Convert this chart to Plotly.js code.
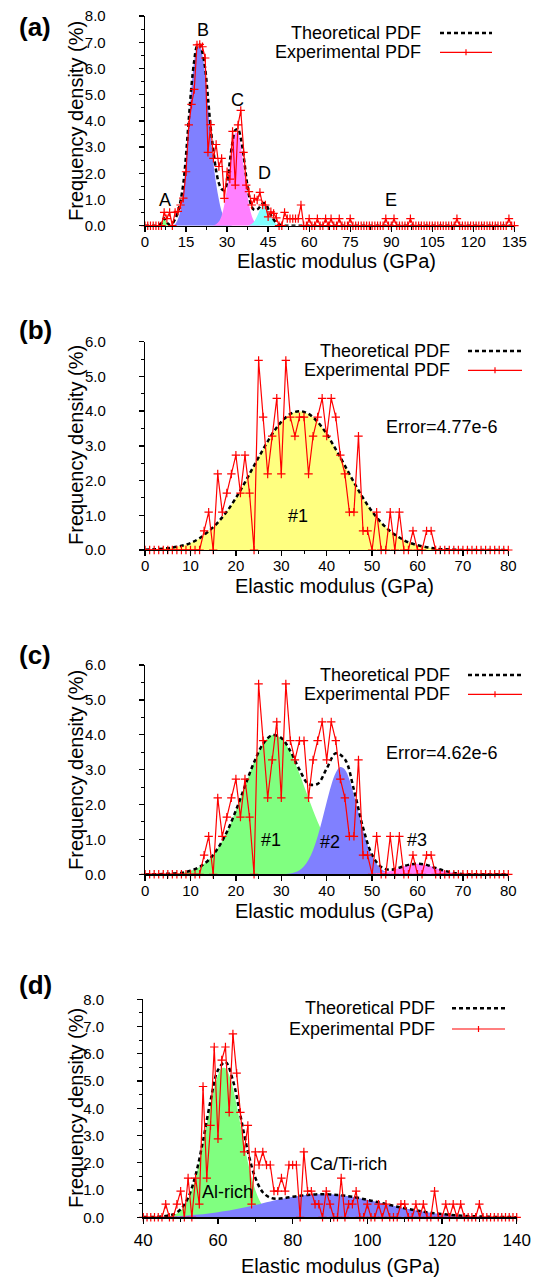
<!DOCTYPE html>
<html><head><meta charset="utf-8">
<script src="https://cdn.plot.ly/plotly-3.0.1.min.js"></script>
<style>html,body{margin:0;padding:0;background:#fff}#chart{width:538px;height:1279px}</style>
</head><body><div id="chart"></div>
<script>
// ---------- DATA ----------
// (a) experimental PDF, bins 0..135 GPa (step 1)
const expA = [
 0,0,0,0,0,0,0,0.51,0.27,0.51,
 0,0.51,0.55,0.79,1.05,2.06,3.85,4.63,5.2,6.9,
 6.92,6.83,6.4,2.8,3.86,2.57,3.1,2.26,2.57,1.04,
 2.06,1.78,3.6,1.55,3.85,4.4,2.8,1.55,1.3,0.79,
 1.04,0.98,1.27,0.79,0.79,0.34,0.53,0.47,0.3,0,
 0,0.51,0.27,0.27,0.27,0.27,0.27,0.79,0,0,
 0.27,0,0,0.27,0,0,0.27,0,0.27,0,
 0,0.27,0,0,0,0.27,0,0,0,0,
 0,0,0,0,0,0,0,0,0.27,0,
 0,0.27,0,0,0,0,0,0.27,0,0,
 0,0,0,0,0,0,0,0,0,0,
 0,0,0,0,0.27,0,0,0,0,0,
 0,0,0,0,0,0,0,0,0,0,
 0,0,0,0.27,0,0];
// (a) theoretical PDF, 0..135 GPa (step 1)
const theoA = [
 0,0,0,0,0,0.02,0.1,0.28,0.12,0.04,
 0.08,0.25,0.5,0.95,1.6,2.7,4.05,5.35,6.3,6.85,
 6.92,6.6,6.0,4.9,3.75,2.85,2.1,1.62,1.4,1.36,
 1.65,2.45,3.2,3.65,3.68,3.35,2.7,1.85,1.15,0.72,
 0.6,0.62,0.72,0.85,0.85,0.65,0.42,0.24,0.12,0.05,
 0.02,0,0,0,0,0,0,0,0,0,
 0,0,0,0,0,0,0,0,0,0,
 0,0,0,0,0,0,0,0,0,0,
 0,0,0,0,0,0,0,0,0,0,
 0,0,0,0,0,0,0,0,0,0,
 0,0,0,0,0,0,0,0,0,0,
 0,0,0,0,0,0,0,0,0,0,
 0,0,0,0,0,0,0,0,0,0,
 0,0,0,0,0,0];
// (a) components
const compA_A = [0,0.1,0.28,0.1,0];                       // from 5 GPa
const compA_B = [0,0.02,0.06,0.25,0.6,1.35,2.55,3.95,5.3,6.3,6.8,6.85,6.5,5.75,4.6,3.45,2.4,1.6,1.0,0.55,0.28,0.12,0.05,0]; // from 9 GPa
const compA_C = [0.017,0.056,0.158,0.384,0.805,1.455,2.27,3.05,3.53,3.53,3.05,2.27,1.455,0.805,0.384,0.158,0.056,0.017]; // from 25 GPa
const compA_D = [0.018,0.064,0.173,0.366,0.604,0.775,0.775,0.604,0.366,0.173,0.064,0.018,0]; // from 38 GPa

// (b),(c) experimental PDF, bins 0..80 GPa (step 1)
const expB = [
 0,0,0,0,0,0,0,0,0,0,
 0,0,0,0.55,1.09,0,2.19,1.09,1.64,2.19,
 2.73,1.64,2.73,1.64,0,5.46,3.83,2.19,3.28,4.37,
 2.19,5.46,3.83,3.28,3.83,3.83,2.19,3.28,3.83,4.37,
 3.28,4.37,3.83,2.73,2.19,1.09,1.09,3.28,0.55,0.55,
 0,1.09,0,0,1.09,0,1.09,0,0,0.55,
 0,0,0.55,0.55,0,0,0,0,0,0,
 0,0,0,0,0,0,0,0,0,0,0];
// (b) theoretical = single component #1, 0..80 GPa (step 2)
const theoB = [0.01,0.02,0.04,0.07,0.12,0.2,0.34,0.54,0.79,1.11,1.5,1.95,2.43,2.9,3.34,3.69,3.92,4.0,3.92,3.69,3.34,2.9,2.43,1.95,1.5,1.11,0.79,0.54,0.36,0.22,0.14,0.08,0.04,0.02,0.01,0,0,0,0,0,0];
// (c) components and theoretical
const compC1 = [0,0,0.01,0.02,0.04,0.1,0.21,0.41,0.74,1.21,1.83,2.53,3.21,3.74,3.99,3.9,3.5,2.88,2.18,1.51,0.96,0.56,0.3,0.15,0.07,0.03,0.01,0,0,0,0,0,0,0,0,0,0,0,0,0,0]; // 0..80 step 2
const compC2 = [0.004,0.01,0.024,0.056,0.118,0.23,0.417,0.699,1.085,1.559,2.075,2.556,2.914,3.074,3.005,2.718,2.276,1.765,1.266,0.841,0.517,0.294,0.155,0.076,0.034,0.014,0.005]; // 30..56 step 1
const compC3 = [0.003,0.013,0.041,0.097,0.182,0.265,0.3,0.265,0.182,0.097,0.041,0.013,0.003]; // 48..72 step 2
const theoC = [0,0,0.01,0.02,0.04,0.1,0.21,0.41,0.74,1.21,1.83,2.53,3.21,3.74,3.99,3.91,3.53,3.0,2.59,2.59,3.03,3.47,3.3,2.42,1.34,0.56,0.21,0.13,0.19,0.27,0.3,0.27,0.18,0.1,0.04,0.01,0,0,0,0,0];

// (d) experimental PDF, bins 40..140 GPa (step 1)
const expD = [
 0,0,0,0,0,0,0.48,0,0,0.48,
 0.96,0,1.44,0,1.44,0.48,4.8,1.44,3.37,6.25,
 2.88,5.77,6.25,3.85,6.73,5.29,3.85,2.4,3.37,0.48,
 2.4,1.92,2.4,1.92,1.92,0.96,0.96,1.44,0.96,1.92,
 1.92,1.92,0,2.4,0.96,0.96,0.48,0.48,0,0.96,
 0.48,0,0,1.44,0,0.48,0.48,0.96,0,0,
 0.48,0,0,0.48,0,0.48,0,0,0,0.48,
 0.48,0,0,0.48,0,0.48,0,0,0.96,0,
 0,0.48,0,0.48,0,0.48,0,0,0,0,
 0.48,0,0,0,0,0,0,0,0,0,
 0];
const compD_Al = [0.019,0.038,0.074,0.137,0.242,0.406,0.652,0.998,1.456,2.027,2.691,3.408,4.118,4.745,5.215,5.468,5.468,5.215,4.745,4.118,3.408,2.691,2.027,1.456,0.998,0.652,0.406,0.242,0.137,0.074,0.038,0.019]; // 46..77 step 1
const compD_Ca = [0.009,0.014,0.019,0.027,0.037,0.051,0.068,0.089,0.115,0.147,0.184,0.227,0.276,0.33,0.389,0.451,0.516,0.58,0.642,0.699,0.75,0.792,0.824,0.843,0.85,0.843,0.824,0.792,0.75,0.699,0.642,0.58,0.516,0.451,0.389,0.33,0.276,0.227,0.184,0.147,0.115,0.089,0.068,0.051,0.037,0.027,0.019,0.014,0.009,0.006,0.004]; // 40..140 step 2
const theoD = [0.01,0.01,0.02,0.05,0.11,0.29,0.72,1.55,2.81,4.27,5.4,5.7,5.02,3.74,2.42,1.45,0.92,0.72,0.68,0.71,0.75,0.79,0.82,0.84,0.85,0.84,0.82,0.79,0.75,0.7,0.64,0.58,0.52,0.45,0.39,0.33,0.28,0.23,0.18,0.15,0.12,0.09,0.07,0.05,0.04,0.03,0.02,0.01,0.01,0.01,0]; // 40..140 step 2

// ---------- STYLE ----------
const W = 538, H = 1279;
const FONT = '"Liberation Sans", Arial, Helvetica, sans-serif';
const px = v => v / W;
const py = v => 1 - v / H;
const GREEN = 'rgb(128,255,128)', BLUE = 'rgb(128,128,255)', MAG = 'rgb(255,128,255)',
      CYAN = 'rgb(128,255,255)', YEL = 'rgb(255,255,128)', RED = '#ff0000';

function fillTrace(y, x0, dx, color, xa, ya) {
  return {type:'scatter', mode:'lines', y, x0, dx, xaxis:xa, yaxis:ya,
    fill:'tozeroy', fillcolor:color, line:{width:0, shape:'spline', color:color}, hoverinfo:'skip'};
}
function theoTrace(y, x0, dx, xa, ya) {
  return {type:'scatter', mode:'lines', y, x0, dx, xaxis:xa, yaxis:ya, name:'Theoretical PDF',
    line:{color:'black', width:2.5, dash:'4px,3px', shape:'spline'}, hoverinfo:'skip'};
}
function expTrace(y, x0, xa, ya) {
  return {type:'scatter', mode:'lines+markers', y, x0, dx:1, xaxis:xa, yaxis:ya, name:'Experimental PDF',
    line:{color:RED, width:1.2}, cliponaxis:false,
    marker:{symbol:'cross-thin', size:6, color:RED, line:{color:RED, width:1.2}}, hoverinfo:'skip'};
}

const traces = [
  fillTrace(compA_A, 5, 1, GREEN, 'x', 'y'),
  fillTrace(compA_B, 9, 1, BLUE, 'x', 'y'),
  fillTrace(compA_C, 25, 1, MAG, 'x', 'y'),
  fillTrace(compA_D, 38, 1, CYAN, 'x', 'y'),
  theoTrace(theoA, 0, 1, 'x', 'y'),
  expTrace(expA, 0, 'x', 'y'),

  fillTrace(theoB, 0, 2, YEL, 'x2', 'y2'),
  theoTrace(theoB, 0, 2, 'x2', 'y2'),
  expTrace(expB, 0, 'x2', 'y2'),

  fillTrace(compC1, 0, 2, GREEN, 'x3', 'y3'),
  fillTrace(compC2, 30, 1, BLUE, 'x3', 'y3'),
  fillTrace(compC3, 48, 2, MAG, 'x3', 'y3'),
  theoTrace(theoC, 0, 2, 'x3', 'y3'),
  expTrace(expB, 0, 'x3', 'y3'),

  fillTrace(compD_Al, 46, 1, GREEN, 'x4', 'y4'),
  fillTrace(compD_Ca, 40, 2, BLUE, 'x4', 'y4'),
  theoTrace(theoD, 40, 2, 'x4', 'y4'),
  expTrace(expD, 40, 'x4', 'y4')
];

function xAxis(dom, range, dtick, minor, size, standoff, anchor) {
  return {domain:[px(dom[0]), px(dom[1])], range, tick0:range[0], dtick, anchor,
    showline:true, linecolor:'black', linewidth:1.3, ticks:'outside', ticklen:5, tickwidth:1.3, tickcolor:'black',
    minor:{dtick:minor, ticks:'outside', ticklen:3, tickwidth:1, tickcolor:'black'},
    showgrid:false, zeroline:false, tickfont:{family:FONT, size, color:'black'},
    ticklabelstandoff:standoff, fixedrange:true};
}
function yAxis(dom, range, anchor) {
  return {domain:[py(dom[1]), py(dom[0])], range, tick0:0, dtick:1, anchor, tickformat:'.1f',
    showline:true, linecolor:'black', linewidth:1.3, ticks:'outside', ticklen:5, tickwidth:1.3, tickcolor:'black',
    minor:{dtick:0.5, ticks:'outside', ticklen:3, tickwidth:1, tickcolor:'black'},
    showgrid:false, zeroline:false, tickfont:{family:FONT, size:15, color:'black'},
    ticklabelstandoff:30, fixedrange:true};
}

const annotations = [];
const shapes = [];
function txt(text, x, y, size, opts) {
  annotations.push(Object.assign({text, x:px(x), y:py(y), xref:'paper', yref:'paper', showarrow:false,
    font:{family:FONT, size, color:'black'}, xanchor:'center', yanchor:'middle'}, opts || {}));
}
function dataTxt(text, x, y, xa, ya, size) {
  annotations.push({text, x, y, xref:xa, yref:ya, showarrow:false,
    font:{family:FONT, size, color:'black'}, xanchor:'center', yanchor:'middle'});
}
function legend(textRight, y1, y2, l0, l1) {
  txt('Theoretical PDF', textRight, y1, 18, {xanchor:'right'});
  txt('Experimental PDF', textRight, y2, 18, {xanchor:'right'});
  shapes.push({type:'line', xref:'paper', yref:'paper', x0:px(l0), x1:px(l1), y0:py(y1), y1:py(y1),
    line:{color:'black', width:2.5, dash:'4px,3px'}});
  shapes.push({type:'line', xref:'paper', yref:'paper', x0:px(l0), x1:px(l1), y0:py(y2), y1:py(y2),
    line:{color:RED, width:1.2}});
  const m = (l0 + l1) / 2;
  shapes.push({type:'line', xref:'paper', yref:'paper', x0:px(m), x1:px(m), y0:py(y2 - 3), y1:py(y2 + 3),
    line:{color:RED, width:1.2}});
}

// panel (a)
txt('<b>(a)</b>', 35, 27, 26);
txt('Frequency density (%)', 76, 121, 20, {textangle:-90});
txt('Elastic modulus (GPa)', 336, 261, 20);
legend(423, 33, 52.3, 440, 492);
dataTxt('A', 7.3, 0.98, 'x', 'y', 18);
dataTxt('B', 21.2, 7.47, 'x', 'y', 18);
dataTxt('C', 33.7, 4.8, 'x', 'y', 18);
dataTxt('D', 43.7, 2.0, 'x', 'y', 18);
dataTxt('E', 89.9, 0.98, 'x', 'y', 18);
// panel (b)
txt('<b>(b)</b>', 35, 330, 26);
txt('Frequency density (%)', 76, 445, 20, {textangle:-90});
txt('Elastic modulus (GPa)', 334, 586, 20);
legend(451.7, 351, 370.3, 468, 522);
dataTxt('Error=4.77e-6', 65.5, 3.53, 'x2', 'y2', 18);
dataTxt('#1', 33.7, 0.98, 'x2', 'y2', 18);
// panel (c)
txt('<b>(c)</b>', 35, 655, 26);
txt('Frequency density (%)', 76, 770, 20, {textangle:-90});
txt('Elastic modulus (GPa)', 334, 911, 20);
legend(451.7, 675, 694.3, 468, 522);
dataTxt('Error=4.62e-6', 65.5, 3.48, 'x3', 'y3', 18);
dataTxt('#1', 27.7, 0.98, 'x3', 'y3', 18);
dataTxt('#2', 40.7, 0.93, 'x3', 'y3', 18);
dataTxt('#3', 59.9, 0.98, 'x3', 'y3', 18);
// panel (d)
txt('<b>(d)</b>', 35, 985, 26);
txt('Frequency density (%)', 76, 1108, 20, {textangle:-90});
txt('Elastic modulus (GPa)', 340, 1266, 20);
legend(437.3, 1008.3, 1029, 452, 505);
dataTxt('Al-rich', 62.5, 0.94, 'x4', 'y4', 18);
dataTxt('Ca/Ti-rich', 94.9, 1.96, 'x4', 'y4', 18);

const layout = {
  width:W, height:H, margin:{l:0, r:0, t:0, b:0}, paper_bgcolor:'white', plot_bgcolor:'rgba(0,0,0,0)',
  showlegend:false, font:{family:FONT, color:'black'},
  xaxis:  xAxis([145, 514.4], [0,135], 15, 7.5, 15, -3, 'y'),
  yaxis:  yAxis([16.1, 225.7], [0,8], 'x'),
  xaxis2: xAxis([145.1, 508.3], [0,80], 10, 5, 15, -3, 'y2'),
  yaxis2: yAxis([341.7, 550], [0,6], 'x2'),
  xaxis3: xAxis([145.1, 508.3], [0,80], 10, 5, 15, -3, 'y3'),
  yaxis3: yAxis([665, 874.3], [0,6], 'x3'),
  xaxis4: xAxis([143.3, 516.7], [40,140], 20, 10, 17, 2, 'y4'),
  yaxis4: yAxis([999.3, 1217.3], [0,8], 'x4'),
  annotations, shapes
};
Plotly.newPlot('chart', traces, layout, {staticPlot:true, displayModeBar:false});
</script></body></html>
